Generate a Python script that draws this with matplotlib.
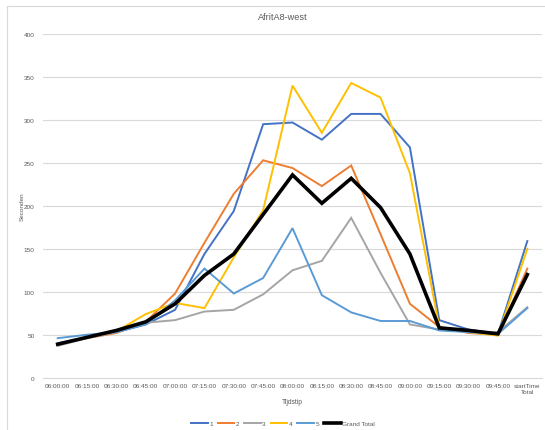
import matplotlib
matplotlib.use("Agg")
import matplotlib.pyplot as plt
from matplotlib.patches import Rectangle

# Travel time per start time, by lane and overall
times = ["06:00:00", "06:15:00", "06:30:00", "06:45:00", "07:00:00", "07:15:00",
         "07:30:00", "07:45:00", "08:00:00", "08:15:00", "08:30:00", "08:45:00",
         "09:00:00", "09:15:00", "09:30:00", "09:45:00", "startTime\nTotal"]

lane1 = [40, 47, 53, 62, 79, 144, 194, 295, 297, 277, 307, 307, 268, 67, 56, 51, 159]
lane2 = [39, 46, 52, 65, 98, 157, 214, 253, 244, 223, 247, 167, 86, 59, 52, 50, 127]
lane3 = [37, 46, 53, 64, 67, 77, 79, 97, 125, 136, 186, 122, 62, 56, 54, 53, 82]
lane4 = [39, 47, 54, 74, 87, 81, 140, 195, 340, 285, 343, 326, 238, 59, 53, 49, 150]
lane5 = [46, 50, 53, 62, 90, 127, 98, 116, 174, 96, 76, 66, 66, 55, 53, 51, 81]
grand_total = [39, 47, 55, 65, 86, 119, 144, 190, 236, 203, 232, 198, 144, 58, 55, 51, 120]

series_names = ["1", "2", "3", "4", "5", "Grand Total"]
series_colors = ["#4472C4", "#ED7D31", "#A5A5A5", "#FFC000", "#5B9BD5", "#000000"]
yticks = [0, 50, 100, 150, 200, 250, 300, 350, 400]

plt.rcParams["font.family"] = ["Liberation Sans", "DejaVu Sans"]
text_color = "#595959"
grid_color = "#D9D9D9"

W, H = 545, 431
fig = plt.figure(figsize=(W / 100, H / 100), dpi=100)

# chart frame
fig.patches.append(Rectangle((7 / W, -0.1), 1.2, 1 - 7 / H + 0.1, transform=fig.transFigure,
                             fill=False, edgecolor=grid_color, linewidth=0.8))

left, right = 43, 542
bottom, top = 378.7, 35
ax = fig.add_axes([left / W, 1 - bottom / H, (right - left) / W, (bottom - top) / H])

x = list(range(len(times)))
all_series = [lane1, lane2, lane3, lane4, lane5, grand_total]
for vals, name, col in zip(all_series, series_names, series_colors):
    lw = 2.6 if name == "Grand Total" else 1.4
    ax.plot(x, vals, color=col, linewidth=lw, label=name, solid_joinstyle="miter",
            zorder=3 if name == "Grand Total" else 2)

ax.set_xlim(-0.5, len(times) - 0.5)
ax.set_ylim(0, 400)
ax.set_yticks(yticks)
ax.set_xticks(x)
ax.set_xticklabels(times, fontsize=4.6, color=text_color, linespacing=1.1)
ax.set_yticklabels([str(v) for v in yticks], fontsize=4.6, color=text_color)
ax.tick_params(axis="both", length=0)
ax.tick_params(axis="y", pad=6)
ax.tick_params(axis="x", pad=4)
ax.grid(axis="y", color=grid_color, linewidth=0.8)
ax.set_axisbelow(True)
for s in ["left", "right", "top"]:
    ax.spines[s].set_visible(False)
ax.spines["bottom"].set_color(grid_color)
ax.spines["bottom"].set_linewidth(0.8)

fig.text(283 / W, 1 - 17 / H, "AfritA8-west", ha="center", va="center",
         fontsize=6.6, color=text_color)
fig.text(22 / W, 1 - 207 / H, "Seconden", ha="center", va="center", rotation=90,
         fontsize=4.6, color=text_color)
fig.text(292 / W, 1 - 403 / H, "Tijdstip", ha="center", va="center",
         fontsize=4.8, color=text_color)

leg = fig.legend(loc="center", bbox_to_anchor=(283 / W, 1 - 424 / H), ncol=6,
                 frameon=False, fontsize=4.6, handlelength=2.6, handletextpad=0.2,
                 columnspacing=0.8, borderaxespad=0)
for t in leg.get_texts():
    t.set_color(text_color)

fig.savefig("out.png", dpi=100)
